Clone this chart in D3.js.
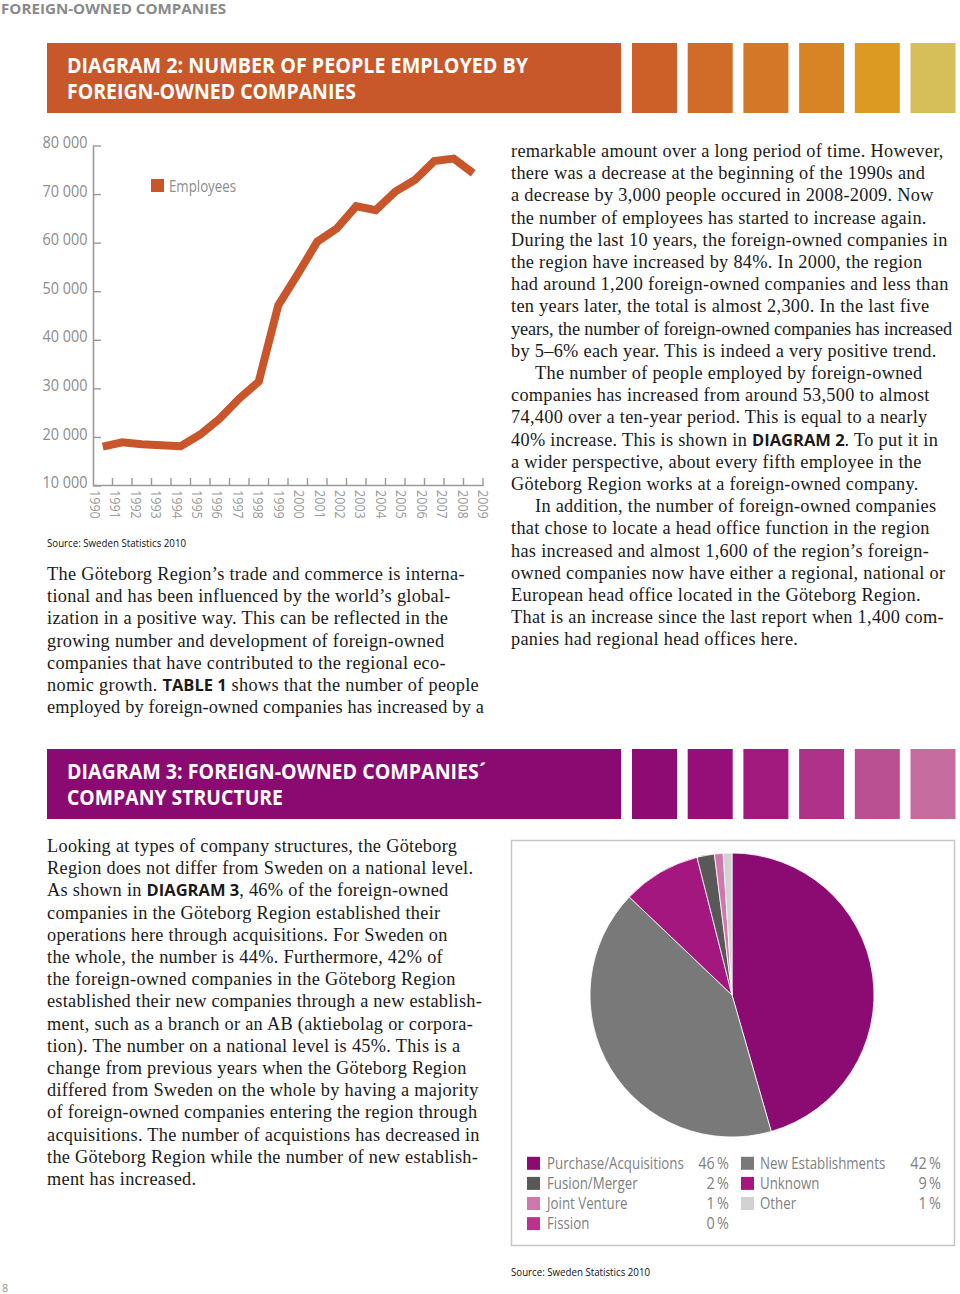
<!DOCTYPE html>
<html><head><meta charset="utf-8">
<script src="https://cdn.jsdelivr.net/npm/d3@7"></script>
<style>
html,body{margin:0;padding:0;background:#fff;}
svg{display:block;}
</style></head>
<body>
<svg id="page" width="960" height="1294"></svg>
<script>
// ---------- DATA ----------
const years = ["1990","1991","1992","1993","1994","1995","1996","1997","1998","1999","2000","2001","2002","2003","2004","2005","2006","2007","2008","2009"];
const employees = [18100,19000,18600,18400,18200,20600,23900,28000,31500,47200,53600,60300,63000,67600,66800,70600,73000,76900,77400,74400];
const yTicks = [10000,20000,30000,40000,50000,60000,70000,80000];
const seriesName = "Employees";

const pieLabels = ["Purchase/Acquisitions","New Establishments","Unknown","Fusion/Merger","Joint Venture","Fission","Other"];
const pieValues = [46,42,9,2,1,0,1];
const pieColors = ["#8c0b72","#797979","#a3177f","#585858","#cf78ac","#b8348e","#d2d2d2"];
const legendCol1 = ["Purchase/Acquisitions","Fusion/Merger","Joint Venture","Fission"];
const legendCol2 = ["New Establishments","Unknown","Other"];

const banner1Colors = ["#c8582a","#cc6028","#d06c27","#d47726","#d88425","#dc9a22","#d6bf58"];
const banner2Colors = ["#8b0a72","#8e0b73","#960e77","#a31a7f","#ae3388","#ba5092","#c76c9f"];

const textA = [
 "The Göteborg Region’s trade and commerce is interna-",
 "tional and has been influenced by the world’s global-",
 "ization in a positive way. This can be reflected in the",
 "growing number and development of foreign-owned",
 "companies that have contributed to the regional eco-",
 "nomic growth. **TABLE 1** shows that the number of people",
 "employed by foreign-owned companies has increased by a"
];
const textB = [
 "remarkable amount over a long period of time. However,",
 "there was a decrease at the beginning of the 1990s and",
 "a decrease by 3,000 people occured in 2008-2009. Now",
 "the number of employees has started to increase again.",
 "During the last 10 years, the foreign-owned companies in",
 "the region have increased by 84%. In 2000, the region",
 "had around 1,200 foreign-owned companies and less than",
 "ten years later, the total is almost 2,300. In the last five",
 "years, the number of foreign-owned companies has increased",
 "by 5–6% each year. This is indeed a very positive trend.",
 ">The number of people employed by foreign-owned",
 "companies has increased from around 53,500 to almost",
 "74,400 over a ten-year period. This is equal to a nearly",
 "40% increase. This is shown in **DIAGRAM 2**. To put it in",
 "a wider perspective, about every fifth employee in the",
 "Göteborg Region works at a foreign-owned company.",
 ">In addition, the number of foreign-owned companies",
 "that chose to locate a head office function in the region",
 "has increased and almost 1,600 of the region’s foreign-",
 "owned companies now have either a regional, national or",
 "European head office located in the Göteborg Region.",
 "That is an increase since the last report when 1,400 com-",
 "panies had regional head offices here."
];
const textC = [
 "Looking at types of company structures, the Göteborg",
 "Region does not differ from Sweden on a national level.",
 "As shown in **DIAGRAM 3**, 46% of the foreign-owned",
 "companies in the Göteborg Region established their",
 "operations here through acquisitions. For Sweden on",
 "the whole, the number is 44%. Furthermore, 42% of",
 "the foreign-owned companies in the Göteborg Region",
 "established their new companies through a new establish-",
 "ment, such as a branch or an AB (aktiebolag or corpora-",
 "tion). The number on a national level is 45%. This is a",
 "change from previous years when the Göteborg Region",
 "differed from Sweden on the whole by having a majority",
 "of foreign-owned companies entering the region through",
 "acquisitions. The number of acquistions has decreased in",
 "the Göteborg Region while the number of new establish-",
 "ment has increased."
];

// ---------- DRAW ----------
const svg = d3.select("#page");
const SANS = "'Open Sans', 'Noto Sans', sans-serif";
const SERIF = "'Liberation Serif','DejaVu Serif',serif";

// horizontally condense a text element (Myriad-like look)
function condense(sel, k){
  sel.each(function(){
    const w = this.getComputedTextLength();
    d3.select(this).attr("textLength", w*k).attr("lengthAdjust","spacingAndGlyphs");
  });
  return sel;
}

// page header
svg.append("text").attr("x",1).attr("y",14).attr("font-family",SANS).attr("font-weight",700)
  .attr("font-size",15).attr("fill","#8a8a8a").attr("textLength",225).attr("lengthAdjust","spacingAndGlyphs")
  .text("FOREIGN-OWNED COMPANIES");

function banner(y, colors, lines, widths){
  const g = svg.append("g");
  g.append("rect").attr("x",47).attr("y",y).attr("width",574).attr("height",70).attr("fill",colors[0]);
  colors.slice(1).forEach((c,i)=>{
    g.append("rect").attr("x",632+i*55.7).attr("y",y).attr("width",45).attr("height",70).attr("fill",c);
  });
  lines.forEach((t,i)=>{
    g.append("text").attr("x",67).attr("y",y+30+i*26).attr("font-family",SANS).attr("font-weight",700)
      .attr("font-size",21.5).attr("fill","#fff").attr("textLength",widths[i]).attr("lengthAdjust","spacingAndGlyphs").text(t);
  });
}
banner(43, banner1Colors, ["DIAGRAM 2: NUMBER OF PEOPLE EMPLOYED BY","FOREIGN-OWNED COMPANIES"],[461,289]);
banner(749, banner2Colors, ["DIAGRAM 3: FOREIGN-OWNED COMPANIES´","COMPANY STRUCTURE"],[419,216]);

// ---------- line chart ----------
const x = d3.scaleBand().domain(years).range([93,483]);
const xl = d3.scalePoint().domain(years).range([95,483]);
const y = d3.scaleLinear().domain([10000,80000]).range([486,146]);
const axisCol = "#9a9a9a", labCol = "#8c8c8c";
const lc = svg.append("g");
lc.append("line").attr("x1",93.5).attr("x2",93.5).attr("y1",146).attr("y2",486).attr("stroke",axisCol).attr("stroke-width",1.6);
lc.append("line").attr("x1",93).attr("x2",483.5).attr("y1",485.5).attr("y2",485.5).attr("stroke",axisCol).attr("stroke-width",1.6);
lc.selectAll(".yt").data(yTicks).join("line").attr("x1",93).attr("x2",101).attr("y1",d=>y(d)).attr("y2",d=>y(d))
  .attr("stroke",axisCol).attr("stroke-width",1.4);
const fmt = d=>d3.format(",")(d).replace(",", " ");
condense(lc.selectAll(".yl").data(yTicks).join("text").attr("x",87.5).attr("y",d=>y(d)-3.5).attr("dy","0.36em")
  .attr("text-anchor","end").attr("font-family",SANS).attr("font-size",15.5).attr("fill",labCol).text(fmt), 0.93);
lc.selectAll(".xt").data(years).join("line").attr("x1",d=>x(d)+x.bandwidth()).attr("x2",d=>x(d)+x.bandwidth())
  .attr("y1",478).attr("y2",486).attr("stroke",axisCol).attr("stroke-width",1.4);
condense(lc.selectAll(".xl").data(years).join("text")
  .attr("transform",d=>`translate(${xl(d)},490) rotate(90)`).attr("dy","0.36em")
  .attr("font-family",SANS).attr("font-size",14).attr("fill","#9a9a9a").text(d=>d), 0.9);
const line = d3.line().x((d,i)=>x(years[i])+x.bandwidth()/2).y(d=>y(d));
lc.append("path").datum(employees).attr("d",line).attr("fill","none").attr("stroke","#c9562a")
  .attr("stroke-width",8).attr("stroke-linejoin","miter");
lc.append("rect").attr("x",151).attr("y",179).attr("width",13).attr("height",13).attr("fill","#c9562a");
lc.append("text").attr("x",169).attr("y",192).attr("font-family",SANS).attr("font-size",15.5).attr("fill",labCol)
  .attr("textLength",67).attr("lengthAdjust","spacingAndGlyphs").text(seriesName);

svg.append("text").attr("x",47).attr("y",547).attr("font-family",SANS).attr("font-size",11).attr("fill","#111")
  .attr("textLength",139).attr("lengthAdjust","spacingAndGlyphs").text("Source: Sweden Statistics 2010");

// ---------- body text ----------
function para(lines, x0, y0, maxW){
  const g = svg.append("g");
  lines.forEach((l,i)=>{
    let ind = 0;
    if(l.startsWith(">")){ ind = 24; l = l.slice(1); }
    const ls = 0.3;
    const t = g.append("text").attr("x",x0+ind).attr("y",y0+i*22.2).attr("font-family",SERIF)
      .attr("font-size",18.3).attr("letter-spacing",ls).attr("fill","#1a1a1a");
    l.split("**").forEach((s,k)=>{
      const ts = t.append("tspan").text(s);
      if(k%2===1) ts.attr("font-family",SANS).attr("font-weight",700).attr("font-size",16.5).attr("letter-spacing",0);
    });
    const w = t.node().getBBox().width;
    const lim = maxW - ind;
    if(w > lim){
      const n = l.replace(/\*\*/g,"").length;
      t.attr("letter-spacing", ls - (w-lim)/n);
    }
  });
}
para(textA, 47, 580, 437);
para(textB, 511, 157, 441);
para(textC, 47, 852, 435);

// ---------- pie ----------
svg.append("rect").attr("x",511.5).attr("y",840.5).attr("width",443).attr("height",405)
  .attr("fill","none").attr("stroke","#c6c6c6").attr("stroke-width",1.5);
const pie = d3.pie().sort(null).value(d=>d);
const arc = d3.arc().innerRadius(0).outerRadius(142);
svg.append("g").attr("transform","translate(732,995)").selectAll("path").data(pie(pieValues)).join("path")
  .attr("d",arc).attr("fill",(d,i)=>pieColors[i]).attr("stroke","#fff").attr("stroke-width",d=>d.value>0?0.8:0);

const colorOf = n => pieColors[pieLabels.indexOf(n)];
const valOf = n => pieValues[pieLabels.indexOf(n)];
function legendCol(items, sx, tx, px){
  items.forEach((n,i)=>{
    const cy = 1163.3 + i*20.1;
    svg.append("rect").attr("x",sx).attr("y",cy-6.5).attr("width",13).attr("height",13).attr("fill",colorOf(n));
    condense(svg.append("text").attr("x",tx).attr("y",cy).attr("dy","0.36em").attr("font-family",SANS)
      .attr("font-size",16).attr("fill","#808080").text(n), 0.83);
    condense(svg.append("text").attr("x",px).attr("y",cy).attr("dy","0.36em").attr("text-anchor","end").attr("font-family",SANS)
      .attr("font-size",16).attr("fill","#808080").text(valOf(n)+"\u2009%"), 0.9);
  });
}
legendCol(legendCol1, 527, 547, 729);
legendCol(legendCol2, 741, 760, 941);

svg.append("text").attr("x",511).attr("y",1276).attr("font-family",SANS).attr("font-size",11).attr("fill","#111")
  .attr("textLength",139).attr("lengthAdjust","spacingAndGlyphs").text("Source: Sweden Statistics 2010");
svg.append("text").attr("x",2).attr("y",1292).attr("font-family",SANS).attr("font-size",11).attr("fill","#999").text("8");
</script>
</body></html>
